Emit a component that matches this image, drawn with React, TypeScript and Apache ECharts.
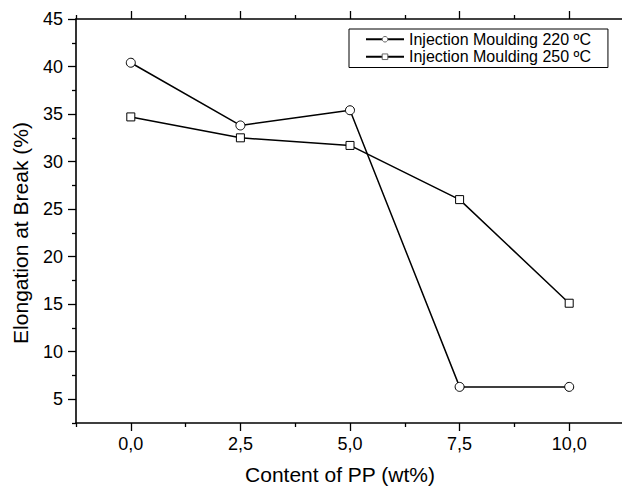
import React, { useEffect, useRef } from "react";
import * as echarts from "echarts";

const ppContent = [0, 2.5, 5, 7.5, 10];
const im220 = [40.4, 33.8, 35.4, 6.3, 6.3];
const im250 = [34.7, 32.5, 31.7, 26.0, 15.1];
const seriesNames = ["Injection Moulding 220 ºC", "Injection Moulding 250 ºC"];
const xMajorTicks = [0, 2.5, 5, 7.5, 10];
const xMinorTicks = [-1.25, 1.25, 3.75, 6.25, 8.75, 11.25];
const yMajorTicks = [5, 10, 15, 20, 25, 30, 35, 40, 45];
const yMinorTicks = [2.5, 7.5, 12.5, 17.5, 22.5, 27.5, 32.5, 37.5, 42.5];

const FONT = "Liberation Sans, Arial, sans-serif";

export default function App() {
  const ref = useRef<HTMLDivElement>(null);
  useEffect(() => {
    if (!ref.current) return;
    const chart = echarts.init(ref.current, null, { renderer: "svg" });
    const xBase = { type: "value", min: -1.25, max: 11.25, gridIndex: 0, splitLine: { show: false } };
    const yBase = { type: "value", min: 2.5, max: 45, gridIndex: 0, splitLine: { show: false } };
    const axLine = { show: true, onZero: false, lineStyle: { color: "#000", width: 1.6 } };
    const noLine = { show: false, onZero: false };
    const tickStyle = { color: "#000", width: 1.3 };
    chart.setOption({
      animation: false,
      backgroundColor: "#fff",
      textStyle: { fontFamily: FONT },
      grid: { left: 76, top: 19, width: 548, height: 404, outerBoundsMode: "none", containLabel: false },
      legend: {
        orient: "vertical",
        left: 349,
        top: 29,
        padding: [1.5, 17, 2, 16],
        itemGap: 0,
        itemWidth: 38,
        itemHeight: 7,
        borderColor: "#000",
        borderWidth: 1,
        backgroundColor: "#fff",
        itemStyle: { color: "#fff", borderColor: "#666", borderWidth: 1 },
        textStyle: { fontSize: 16, color: "#000", fontFamily: FONT, lineHeight: 17.5 },
        data: seriesNames,
      },
      xAxis: [
        {
          ...xBase,
          position: "bottom",
          axisLine: axLine,
          axisTick: { show: true, length: 8, customValues: xMajorTicks, lineStyle: tickStyle },
          axisLabel: {
            customValues: xMajorTicks,
            fontSize: 18,
            color: "#000",
            margin: 12,
            fontFamily: FONT,
            formatter: (v: number) => v.toFixed(1).replace(".", ","),
          },
          name: "Content of PP (wt%)",
          nameLocation: "middle",
          nameGap: 41,
          nameTextStyle: { fontSize: 21, color: "#000", fontFamily: FONT, padding: [0, 20, 0, 0] },
        },
        {
          ...xBase,
          position: "bottom",
          axisLine: noLine,
          axisTick: { show: true, length: 4, customValues: xMinorTicks, lineStyle: tickStyle },
          axisLabel: { show: false },
        },
        {
          ...xBase,
          position: "top",
          axisLine: axLine,
          axisTick: { show: true, length: 8, customValues: xMajorTicks, lineStyle: tickStyle },
          axisLabel: { show: false },
        },
        {
          ...xBase,
          position: "top",
          axisLine: noLine,
          axisTick: { show: true, length: 4, customValues: xMinorTicks, lineStyle: tickStyle },
          axisLabel: { show: false },
        },
      ],
      yAxis: [
        {
          ...yBase,
          position: "left",
          axisLine: axLine,
          axisTick: { show: true, length: 8, customValues: yMajorTicks, lineStyle: tickStyle },
          axisLabel: { customValues: yMajorTicks, fontSize: 18, color: "#000", margin: 13, fontFamily: FONT },
          name: "Elongation at Break (%)",
          nameLocation: "middle",
          nameGap: 45,
          nameTextStyle: { fontSize: 21, color: "#000", fontFamily: FONT, padding: [0, 24, 0, 0] },
        },
        {
          ...yBase,
          position: "left",
          axisLine: noLine,
          axisTick: { show: true, length: 4, customValues: yMinorTicks, lineStyle: tickStyle },
          axisLabel: { show: false },
        },
      ],
      series: [
        {
          name: seriesNames[0],
          type: "line",
          xAxisIndex: 0,
          yAxisIndex: 0,
          data: ppContent.map((x, i) => [x, im220[i]]),
          symbol: "circle",
          symbolSize: 9,
          lineStyle: { color: "#000", width: 1.5 },
          itemStyle: { color: "#fff", borderColor: "#000", borderWidth: 1 },
        },
        {
          name: seriesNames[1],
          type: "line",
          xAxisIndex: 0,
          yAxisIndex: 0,
          data: ppContent.map((x, i) => [x, im250[i]]),
          symbol: "rect",
          symbolSize: 8,
          lineStyle: { color: "#000", width: 1.5 },
          itemStyle: { color: "#fff", borderColor: "#000", borderWidth: 1 },
        },
      ],
    });
    return () => chart.dispose();
  }, []);
  return <div ref={ref} style={{ position: "fixed", left: 0, top: 0, width: 622, height: 486 }} />;
}
